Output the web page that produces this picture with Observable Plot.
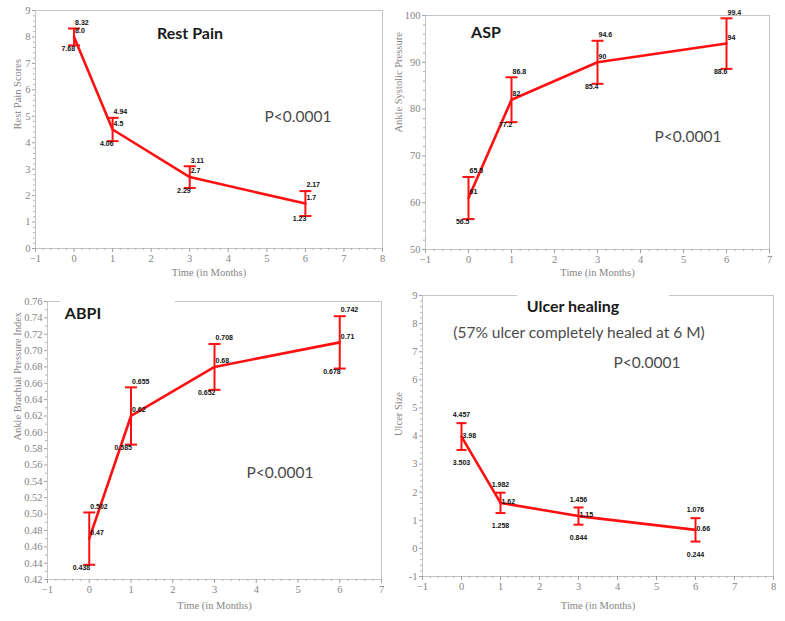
<!DOCTYPE html>
<html><head><meta charset="utf-8">
<script src="https://cdn.jsdelivr.net/npm/d3@7"></script>
<script src="https://cdn.jsdelivr.net/npm/@observablehq/plot@0.6"></script>
<style>
body{margin:0;background:#fff;}
#wrap{position:relative;width:785px;height:621px;overflow:hidden;background:#fff;}
.panel{position:absolute;}
.ann{position:absolute;white-space:nowrap;transform:translate(-50%,-50%);font-family:Lato,"Open Sans",sans-serif;line-height:1;}
.ttl{font-weight:bold;font-size:16px;color:#1a1a1a;}
.pv{font-size:15.5px;color:#4a4a4a;}
.gap{position:absolute;background:#fff;}
</style></head>
<body><div id="wrap">
<div class="gap" style="left:60px;top:297px;width:115px;height:7px;"></div>
<div class="gap" style="left:517px;top:289px;width:152px;height:7px;"></div>
<div class="ann ttl" style="left:190px;top:33px;">Rest Pain</div>
<div class="ann pv" style="left:298px;top:117px;">P&lt;0.0001</div>
<div class="ann ttl" style="left:486px;top:32px;">ASP</div>
<div class="ann pv" style="left:688px;top:137px;">P&lt;0.0001</div>
<div class="ann ttl" style="left:83px;top:313px;">ABPI</div>
<div class="ann pv" style="left:280px;top:473px;">P&lt;0.0001</div>
<div class="ann ttl" style="left:573px;top:306px;">Ulcer healing</div>
<div class="ann pv" style="left:579px;top:333px;">(57% ulcer completely healed at 6 M)</div>
<div class="ann pv" style="left:647px;top:363px;">P&lt;0.0001</div>
</div>
<script>
// ---- data ----
const months = [0, 1, 3, 6];

const restPainMean  = [8.0, 4.5, 2.7, 1.7];
const restPainLower = [7.68, 4.06, 2.29, 1.23];
const restPainUpper = [8.32, 4.94, 3.11, 2.17];

const aspMean  = [61, 82, 90, 94];
const aspLower = [56.5, 77.2, 85.4, 88.6];
const aspUpper = [65.5, 86.8, 94.6, 99.4];

const abpiMean  = [0.47, 0.62, 0.68, 0.71];
const abpiLower = [0.438, 0.585, 0.652, 0.678];
const abpiUpper = [0.502, 0.655, 0.708, 0.742];

const ulcerMean  = [3.98, 1.62, 1.15, 0.66];
const ulcerLower = [3.503, 1.258, 0.844, 0.244];
const ulcerUpper = [4.457, 1.982, 1.456, 1.076];

const restPainXTicks = [-1, 0, 1, 2, 3, 4, 5, 6, 7, 8];
const restPainYTicks = [0, 1, 2, 3, 4, 5, 6, 7, 8, 9];
const aspXTicks = [-1, 0, 1, 2, 3, 4, 5, 6, 7];
const aspYTicks = [50, 60, 70, 80, 90, 100];
const abpiXTicks = [-1, 0, 1, 2, 3, 4, 5, 6, 7];
const abpiYTicks = [0.42, 0.44, 0.46, 0.48, 0.50, 0.52, 0.54, 0.56, 0.58, 0.60, 0.62, 0.64, 0.66, 0.68, 0.70, 0.72, 0.74, 0.76];
const ulcerXTicks = [-1, 0, 1, 2, 3, 4, 5, 6, 7, 8];
const ulcerYTicks = [-1, 0, 1, 2, 3, 4, 5, 6, 7, 8, 9];

const xLabel = "Time (in Months)";

// ---- helpers ----
function rows(mean, lower, upper) {
  return months.map((m, i) => ({month: m, mean: mean[i], lower: lower[i], upper: upper[i]}));
}
function minorTicks(ticks, n) {
  const out = [];
  for (let i = 0; i < ticks.length - 1; i++) {
    const a = ticks[i], b = ticks[i + 1];
    for (let k = 1; k < n; k++) out.push(a + (b - a) * k / n);
  }
  return out;
}
const capSymbol = w => ({draw(ctx) { ctx.moveTo(-w, 0); ctx.lineTo(w, 0); }});
const serif = "Liberation Serif, DejaVu Serif, serif";
const axisFont = {fontFamily: serif, fontSize: 10.5, fill: "#858585"};
const lblFont = {fontSize: 7, fontWeight: "bold", fontFamily: "Liberation Sans, Arial, sans-serif", fill: "#111"};

function panel(cfg) {
  const data = rows(cfg.mean, cfg.lower, cfg.upper);
  const red = "#ff1010";
  const labelMarks = cfg.centered ? [
    Plot.text(data, {x: "month", y: "upper", text: d => cfg.fmtB(d.upper), textAnchor: "middle", dy: -8, ...lblFont}),
    Plot.text(data, {x: "month", y: "mean", text: d => cfg.fmtM(d.mean), textAnchor: "start", dx: 1, dy: -1, ...lblFont}),
    Plot.text(data, {x: "month", y: "lower", text: d => cfg.fmtB(d.lower), textAnchor: "middle", dy: 13, ...lblFont})
  ] : [
    Plot.text(data, {x: "month", y: "upper", text: d => cfg.fmtB(d.upper), textAnchor: "start", dx: 1, dy: -6, ...lblFont}),
    Plot.text(data, {x: "month", y: "mean", text: d => cfg.fmtM(d.mean), textAnchor: "start", dx: 1, dy: -6, ...lblFont}),
    Plot.text(data, {x: "month", y: "lower", text: d => cfg.fmtB(d.lower), textAnchor: "end", dx: 1, dy: 3, ...lblFont})
  ];
  return Plot.plot({
    width: cfg.width, height: cfg.height,
    marginLeft: cfg.ml, marginRight: cfg.mr, marginTop: cfg.mt, marginBottom: cfg.mb,
    style: {background: "transparent", overflow: "visible", fontFamily: serif},
    x: {domain: cfg.xDomain},
    y: {domain: cfg.yDomain},
    marks: [
      Plot.frame({stroke: "#c4c4c4"}),
      Plot.axisX(minorTicks(cfg.xTicks, 5), {tickSize: 2, tickFormat: () => "", label: null, stroke: "#b0b0b0"}),
      Plot.axisY(minorTicks(cfg.yTicks, cfg.yMinorN), {tickSize: 2, tickFormat: () => "", label: null, stroke: "#b0b0b0"}),
      Plot.axisX(cfg.xTicks, {tickSize: 4, tickPadding: 2, label: null, stroke: "#a0a0a0", ...axisFont}),
      Plot.axisY(cfg.yTicks, {tickSize: 3, tickPadding: 2, label: null, stroke: "#a0a0a0", ...axisFont, tickFormat: cfg.yFmt}),
      Plot.text([xLabel], {text: d => d, frameAnchor: "bottom", dy: cfg.xLabDy, ...axisFont}),
      Plot.text([cfg.yLabel], {text: d => d, frameAnchor: "left", dx: -cfg.yLabDx, rotate: -90, ...axisFont}),
      Plot.line(data, {x: "month", y: "mean", stroke: red, strokeWidth: 2.6}),
      Plot.ruleX(data, {x: "month", y1: "lower", y2: "upper", stroke: red, strokeWidth: 2}),
      Plot.dot(data, {x: "month", y: "lower", symbol: capSymbol(cfg.cap), stroke: red, fill: "none", strokeWidth: 2}),
      Plot.dot(data, {x: "month", y: "upper", symbol: capSymbol(cfg.cap), stroke: red, fill: "none", strokeWidth: 2}),
      ...labelMarks
    ]
  });
}

function place(el, left, top) {
  const d = document.createElement("div");
  d.className = "panel";
  d.style.left = left + "px"; d.style.top = top + "px";
  d.appendChild(el);
  const wrap = document.getElementById("wrap");
  wrap.insertBefore(d, wrap.firstChild);
}

const p1 = panel({
  mean: restPainMean, lower: restPainLower, upper: restPainUpper,
  width: 392, height: 290, ml: 35, mr: 10, mt: 10, mb: 42,
  xDomain: [-1, 8], yDomain: [0, 9], xTicks: restPainXTicks, yTicks: restPainYTicks, yMinorN: 5,
  yFmt: d => String(d), yLabel: "Rest Pain Scores", xLabDy: 27, yLabDx: 18, cap: 6,
  fmtM: d => d.toFixed(1), fmtB: d => d.toFixed(2)
});
const p2 = panel({
  mean: aspMean, lower: aspLower, upper: aspUpper,
  width: 393, height: 290, ml: 33, mr: 16, mt: 15, mb: 41,
  xDomain: [-1, 7], yDomain: [50, 100], xTicks: aspXTicks, yTicks: aspYTicks, yMinorN: 5,
  yFmt: d => String(d), yLabel: "Ankle Systolic Pressure", xLabDy: 26, yLabDx: 27, cap: 6,
  fmtM: d => String(d), fmtB: d => String(d)
});
const p3 = panel({
  mean: abpiMean, lower: abpiLower, upper: abpiUpper,
  width: 392, height: 331, ml: 47, mr: 11, mt: 11, mb: 42,
  xDomain: [-1, 7], yDomain: [0.42, 0.76], xTicks: abpiXTicks, yTicks: abpiYTicks, yMinorN: 2,
  yFmt: d => d.toFixed(2), yLabel: "Ankle Brachial Pressure Index", xLabDy: 29, yLabDx: 30, cap: 6,
  fmtM: d => String(d), fmtB: d => String(d)
});
const p4 = panel({
  mean: ulcerMean, lower: ulcerLower, upper: ulcerUpper,
  width: 393, height: 331, ml: 30, mr: 12, mt: 5, mb: 45,
  xDomain: [-1, 8], yDomain: [-1, 9], xTicks: ulcerXTicks, yTicks: ulcerYTicks, yMinorN: 5,
  yFmt: d => String(d), yLabel: "Ulcer Size", xLabDy: 32, yLabDx: 24, cap: 5, centered: true,
  fmtM: d => String(d), fmtB: d => String(d)
});
place(p4, 392, 290);
place(p3, 0, 290);
place(p2, 392, 0);
place(p1, 0, 0);
</script>
</body></html>
